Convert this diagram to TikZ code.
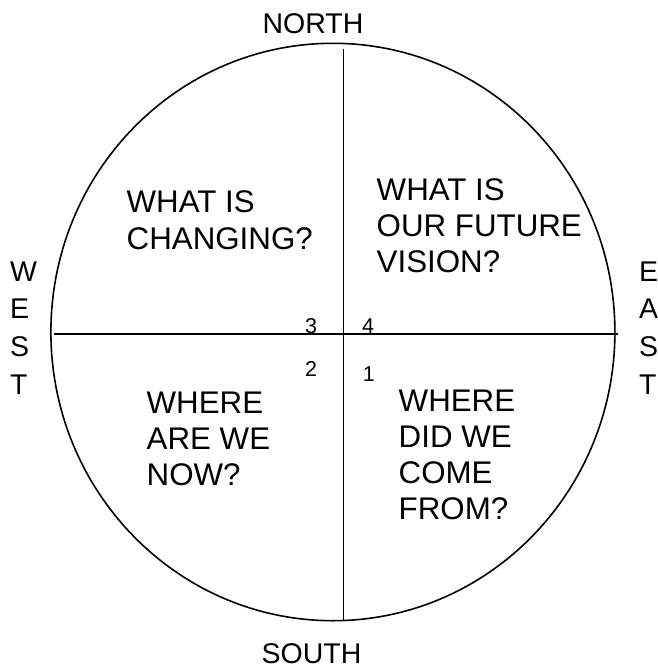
\documentclass[tikz,border=0pt]{standalone}
\usepackage{fontspec}
\setmainfont{Liberation Sans}
\begin{document}
\begin{tikzpicture}[x=1pt,y=-1pt,
  line/.style={line width=1.6pt},
  quad/.style={anchor=north west,inner sep=0pt,align=left,font=\fontsize{31.3}{36.1}\selectfont},
  compass/.style={anchor=base,inner sep=0pt,font=\fontsize{28.5}{34}\selectfont},
  side/.style={anchor=north west,inner sep=0pt,align=left,font=\fontsize{28.5}{37.7}\selectfont},
  num/.style={anchor=base west,inner sep=0pt,font=\fontsize{21.5}{25}\selectfont}]
\useasboundingbox (0,0) rectangle (657,669);
\coordinate (c) at (332.9,332);
\draw[line] (c) ellipse [x radius=282pt, y radius=288.7pt];
\coordinate (n) at (343.5,49);
\coordinate (s) at (343.5,621);
\coordinate (w) at (54,334);
\coordinate (e) at (617.5,334);
\draw[line] (n) -- (s);
\draw[line] (w) -- (e);
\node[compass] (north) at (313,33.3) {NORTH};
\node[compass] (south) at (311.5,663) {SOUTH};
\node[side] (west) at (10,261.2) {W\\E\\S\\T};
\node[side] (east) at (639,261.2) {E\\A\\S\\T};
\node[quad] (changing) at (126.5,190.9) {WHAT IS\\CHANGING?};
\node[quad] (vision) at (376.5,178.1) {WHAT IS\\OUR FUTURE\\VISION?};
\node[quad] (now) at (146.5,391.4) {WHERE\\ARE WE\\NOW?};
\node[quad] (from) at (398.5,389.3) {WHERE\\DID WE\\COME\\FROM?};
\node[num] (n3) at (305,333) {3};
\node[num] (n4) at (362,333) {4};
\node[num] (n2) at (305,376) {2};
\node[num] (n1) at (362.7,381.8) {1};
\end{tikzpicture}
\end{document}
